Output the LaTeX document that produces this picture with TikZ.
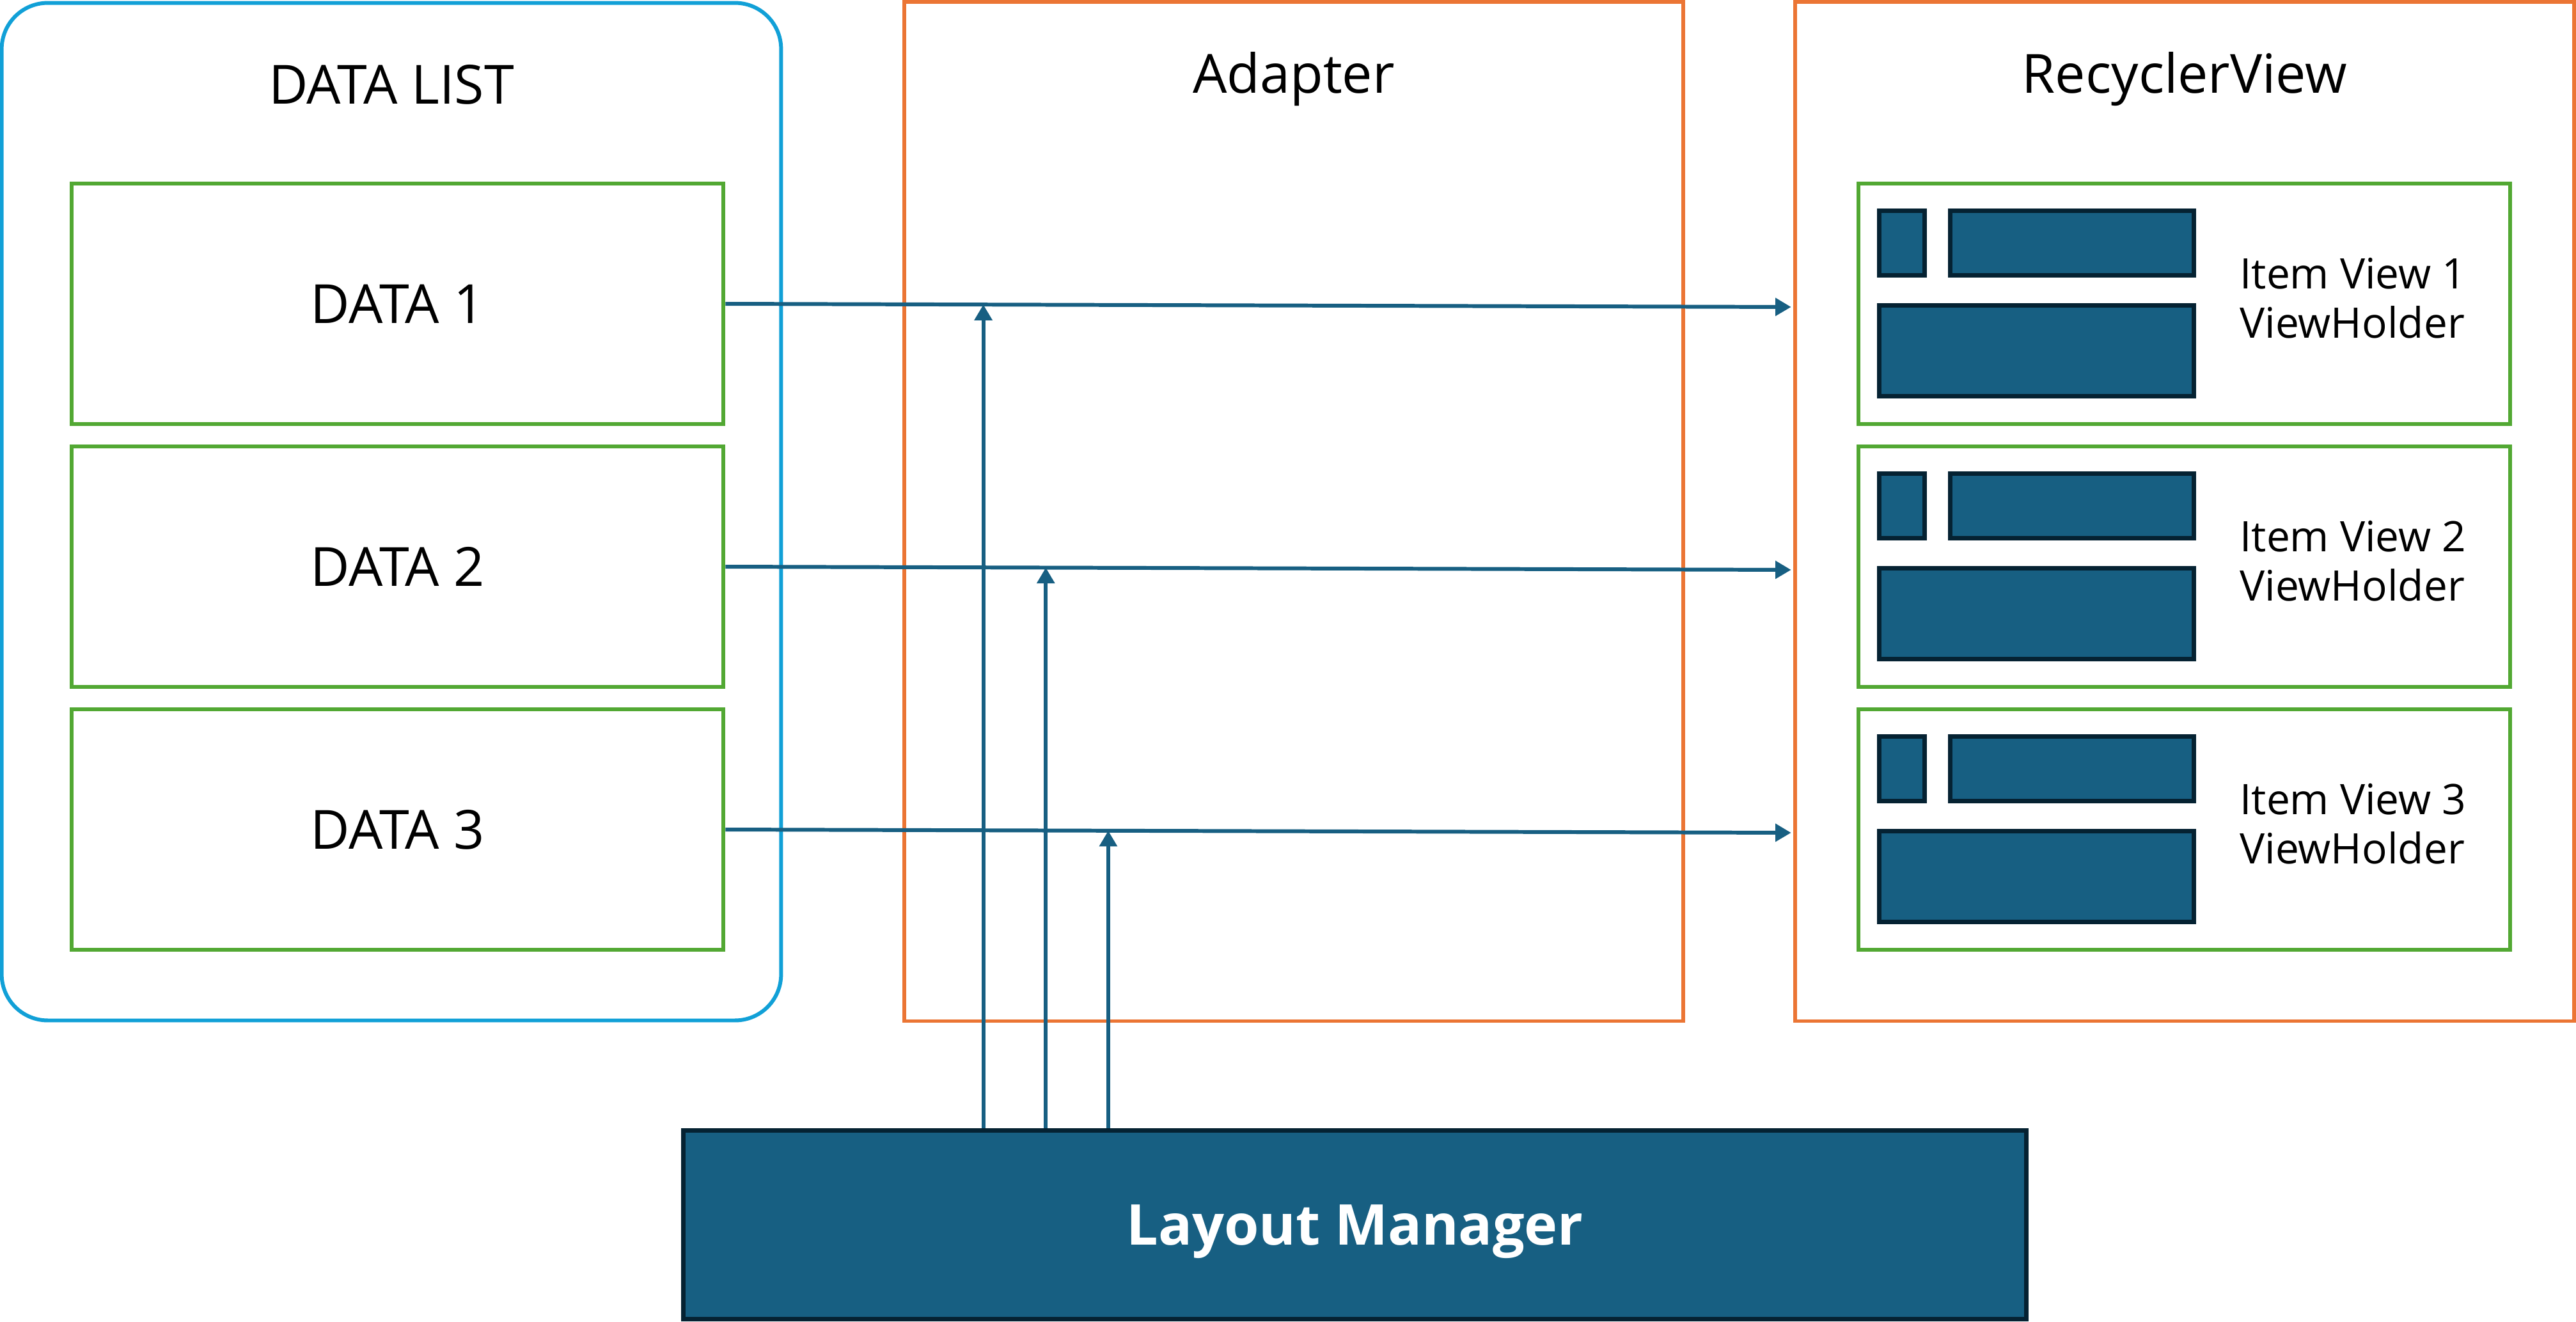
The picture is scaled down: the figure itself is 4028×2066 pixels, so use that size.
\documentclass[tikz,border=0pt]{standalone}
\usepackage{fontspec}
\setmainfont{Open Sans}
\usetikzlibrary{arrows.meta,calc}
\definecolor{listBlue}{RGB}{17,160,215}
\definecolor{boxGreen}{RGB}{82,168,51}
\definecolor{frameOrange}{RGB}{235,117,52}
\definecolor{viewTeal}{RGB}{23,95,130}
\definecolor{viewDark}{RGB}{5,34,50}
\tikzset{
    listFrame/.style={draw=listBlue, line width=1.7pt, rounded corners=0.72cm, minimum width=12.18cm, minimum height=15.90cm, inner sep=0pt},
    frameBox/.style={draw=frameOrange, line width=1.7pt, minimum width=12.18cm, minimum height=15.93cm, inner sep=0pt},
    dataBox/.style={draw=boxGreen, line width=1.7pt, minimum width=10.19cm, minimum height=3.76cm, inner sep=0pt, font=\fontsize{24}{28}\selectfont},
    titleText/.style={anchor=base, inner sep=0pt, font=\fontsize{24}{28}\selectfont},
    itemText/.style={anchor=base west, align=left, inner sep=0pt, font=\fontsize{18.7}{21.9}\selectfont},
    viewBlock/.style={draw=viewDark, fill=viewTeal, line width=2pt},
    layoutBox/.style={draw=viewDark, fill=viewTeal, line width=2pt, minimum width=20.99cm, minimum height=2.94cm, inner sep=0pt, text depth=0pt, text=white, font=\fontsize{25}{30}\selectfont\bfseries},
    flow/.style={draw=viewTeal, line width=1.7pt, -{Triangle[length=7pt,width=7.7pt]}}
}
\newcommand{\drawBlocks}[1]{
    \draw[viewBlock] ($(#1.north west)+(36,46)$) rectangle ($(#1.north west)+(107,147)$);
    \draw[viewBlock] ($(#1.north west)+(147,46)$) rectangle ($(#1.north west)+(528,147)$);
    \draw[viewBlock] ($(#1.north west)+(36,194)$) rectangle ($(#1.north west)+(528,336)$)
}
\begin{document}
\begin{tikzpicture}[x=0.01cm,y=-0.01cm]
    \useasboundingbox (0,0) rectangle (4028,2066);

    \node[listFrame] (dl) at (612,800) {};
    \node[frameBox] (ad) at (2023,799.5) {};
    \node[frameBox] (rv) at (3416,799.5) {};

    \node[titleText] (dltitle) at (612,162) {DATA LIST};
    \node[titleText] (adtitle) at (2023,145) {Adapter};
    \node[titleText] (rvtitle) at (3416,145) {RecyclerView};

    \node[dataBox] (d1) at (621.5,475) {DATA 1};
    \node[dataBox] (d2) at (621.5,886) {DATA 2};
    \node[dataBox] (d3) at (621.5,1297) {DATA 3};

    \node[dataBox] (i1) at (3415.5,475) {};
    \node[dataBox] (i2) at (3415.5,886) {};
    \node[dataBox] (i3) at (3415.5,1297) {};

    \drawBlocks{i1};
    \drawBlocks{i2};
    \drawBlocks{i3};

    \node[itemText] (t1) at ($(i1.north west)+(599,245)$) {Item View 1\\ViewHolder};
    \node[itemText] (t2) at ($(i2.north west)+(599,245)$) {Item View 2\\ViewHolder};
    \node[itemText] (t3) at ($(i3.north west)+(599,245)$) {Item View 3\\ViewHolder};

    \node[layoutBox] (lm) at (2118.5,1915) {Layout Manager};

    \draw[flow, shorten >=0.85pt] (d1.east) -- coordinate[pos=0.2416] (h1) ($(d1.east -| rv.west)+(0,5)$);
    \draw[flow, shorten >=0.85pt] (d2.east) -- coordinate[pos=0.3001] (h2) ($(d2.east -| rv.west)+(0,5)$);
    \draw[flow, shorten >=0.85pt] (d3.east) -- coordinate[pos=0.3586] (h3) ($(d3.east -| rv.west)+(0,5)$);

    \draw[flow] (lm.north -| h1) -- (h1);
    \draw[flow] (lm.north -| h2) -- (h2);
    \draw[flow] (lm.north -| h3) -- (h3);
\end{tikzpicture}
\end{document}
